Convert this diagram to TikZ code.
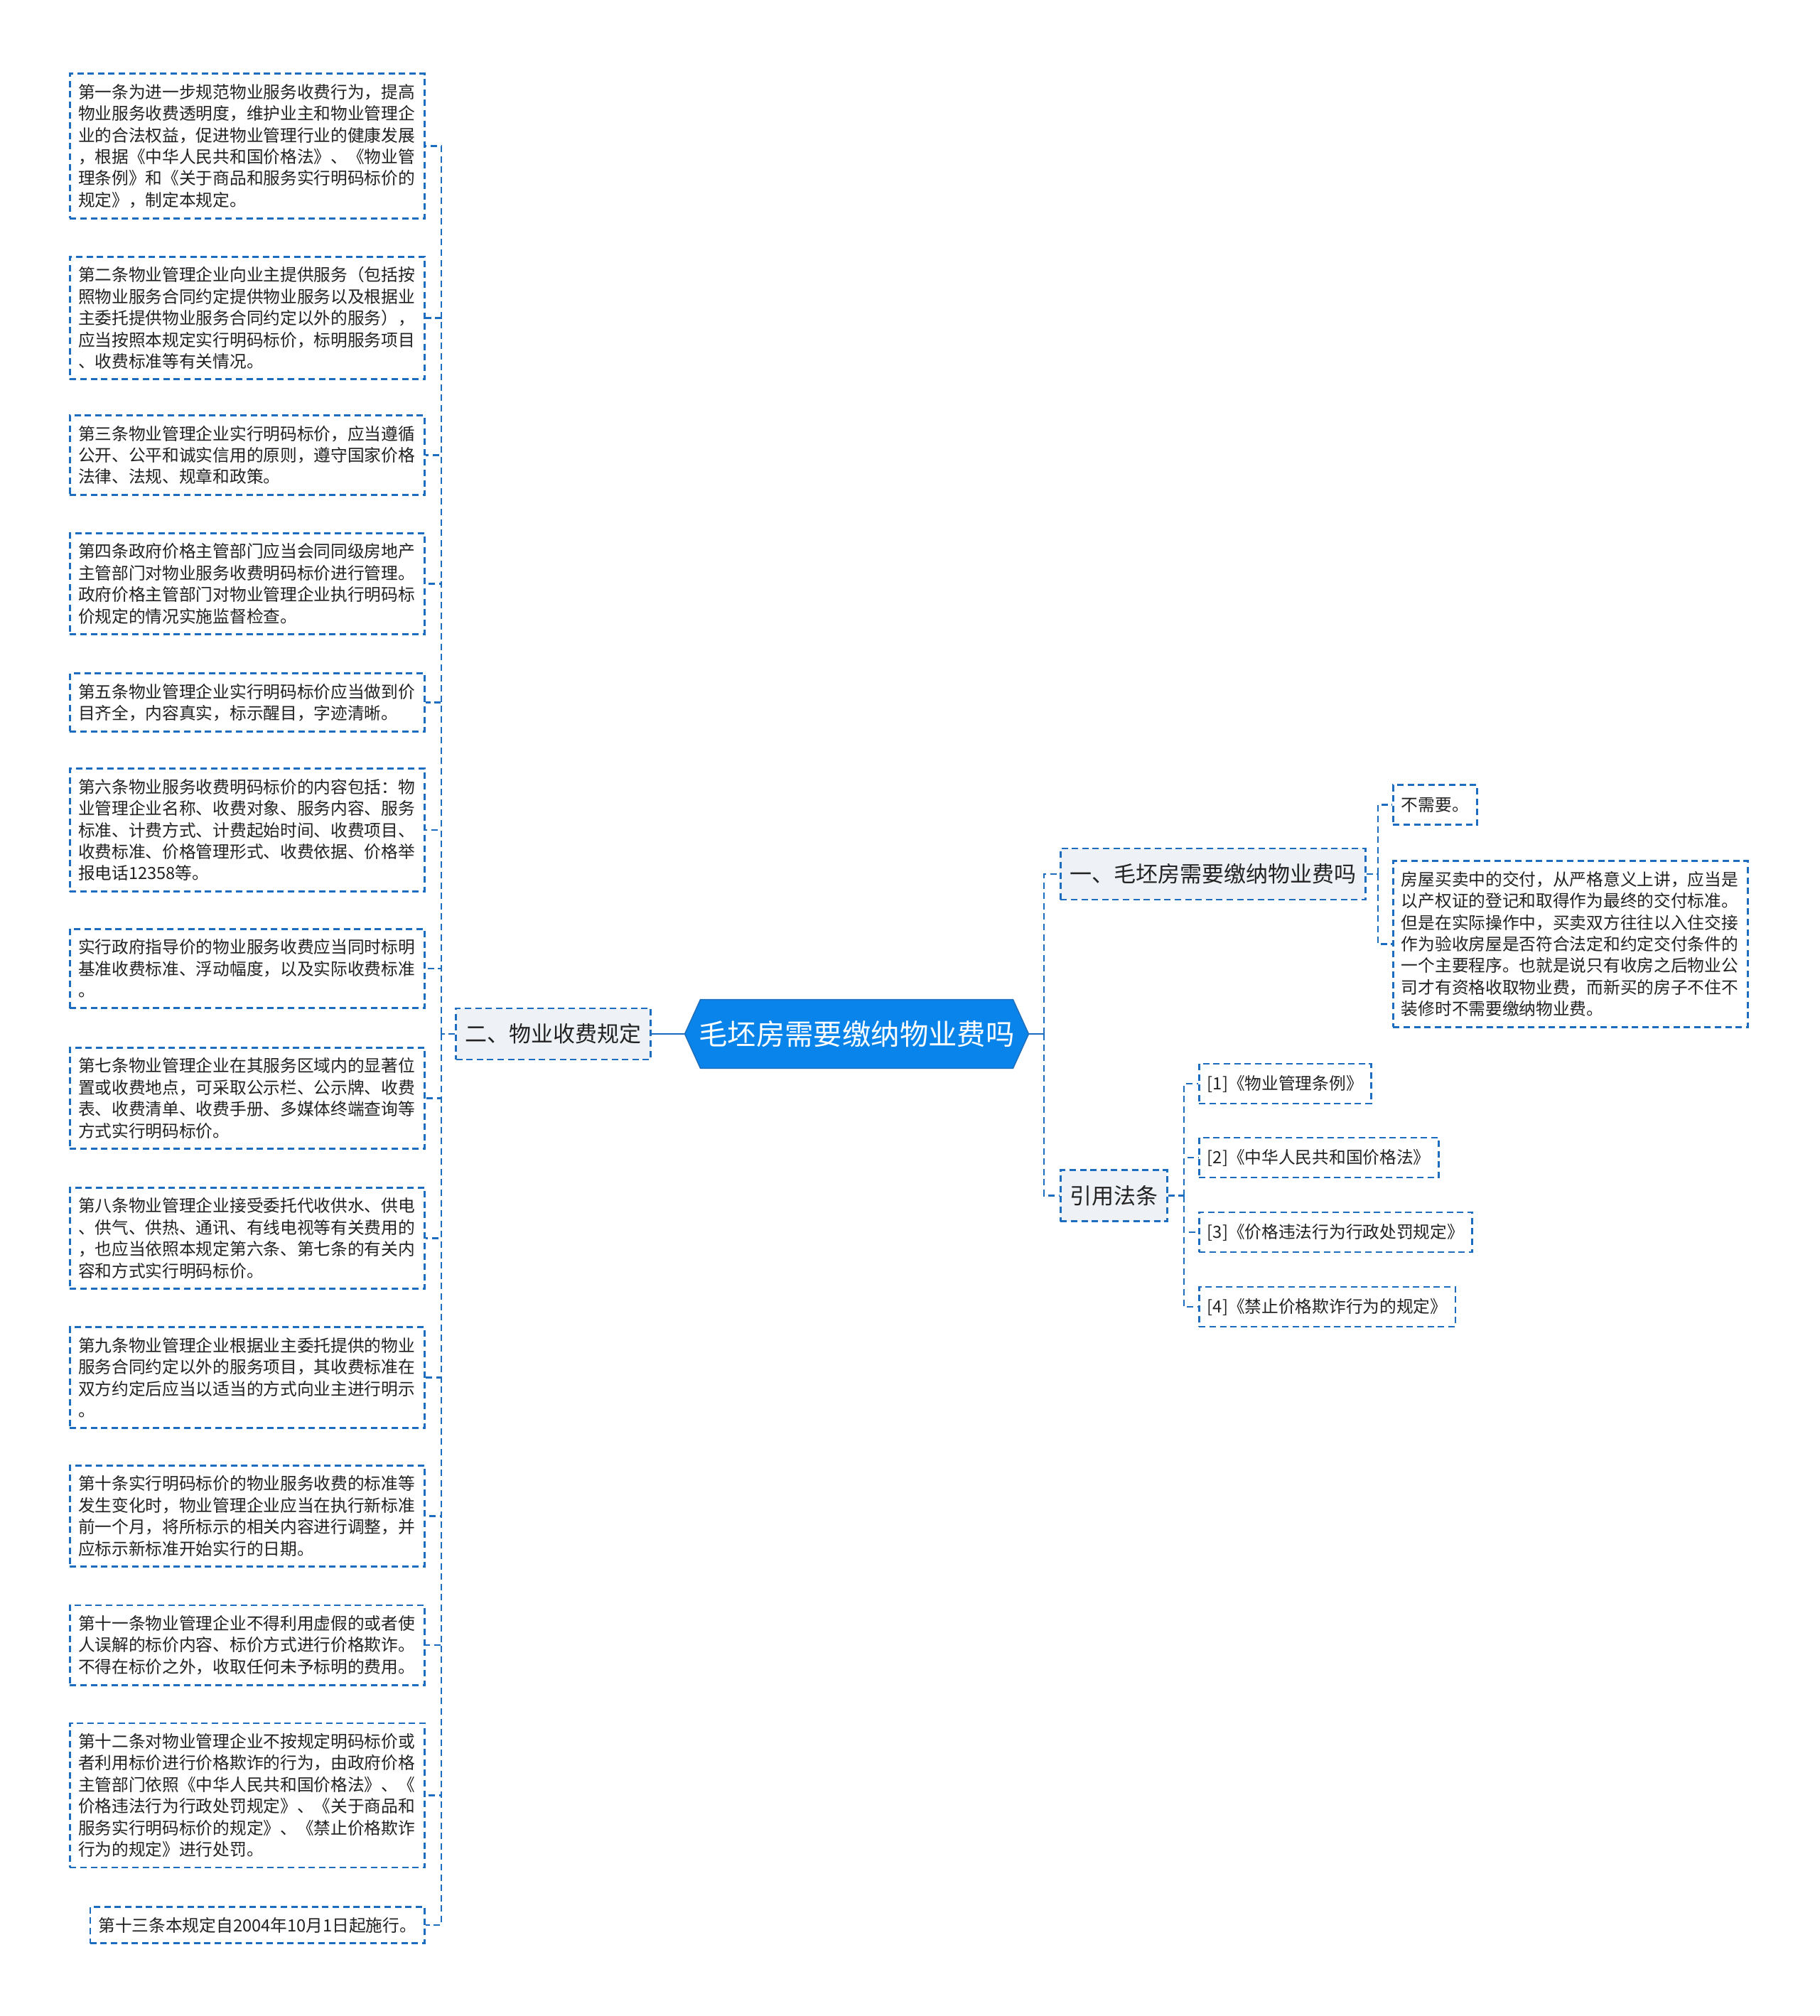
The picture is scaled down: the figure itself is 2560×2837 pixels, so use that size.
\documentclass[tikz,border=0pt]{standalone}
\usepackage{fontspec}
\setmainfont{Noto Sans CJK SC}
\usepackage{tikz}
\usetikzlibrary{backgrounds}
\usepackage{xcolor}
\definecolor{linkblue}{HTML}{1C6CC0}
\definecolor{rootblue}{HTML}{0984EA}
\definecolor{rootedge}{HTML}{1F6FBF}
\definecolor{branchgray}{HTML}{EEF1F5}
\definecolor{inkgray}{HTML}{222222}

\begin{document}
\begin{tikzpicture}[x=0.5pt, y=-0.5pt, text=inkgray,
  link/.style={draw=linkblue, line width=1.35pt, dash pattern=on 4.5pt off 2.8pt},
  rootlink/.style={draw=linkblue, line width=1.4pt},
  leaf/.style={link, align=left, inner xsep=5.8pt, inner ysep=7.2pt,
    font=\fontsize{11.85}{15.2}\selectfont},
  article/.style={leaf, text width=238pt, anchor=east},
  refbox/.style={leaf, minimum height=28pt, anchor=west},
  branch/.style={link, fill=branchgray, inner xsep=6.5pt, minimum height=36pt,
    font=\fontsize{15.5}{18}\selectfont}]
\useasboundingbox (0,0) rectangle (2560,2837);

% root and main branches
\node[text=white, font=\fontsize{20.2}{24}\selectfont, minimum width=241.5pt,
  minimum height=48pt, inner sep=0pt] (root) at (1205.5,1455) {毛坯房需要缴纳物业费吗};
\node[branch, anchor=east] (b2) at (917,1455) {二、物业收费规定};
\node[branch, anchor=west] (b1) at (1491,1230) {一、毛坯房需要缴纳物业费吗};
\node[branch, anchor=west] (b3) at (1491,1682.5) {引用法条};

% left: articles
\node[article] (art1) at (599,205.5) {第一条为进一步规范物业服务收费行为，提高\\物业服务收费透明度，维护业主和物业管理企\\业的合法权益，促进物业管理行业的健康发展\\，根据《中华人民共和国价格法》、《物业管\\理条例》和《关于商品和服务实行明码标价的\\规定》，制定本规定。};
\node[article] (art2) at (599,447.5) {第二条物业管理企业向业主提供服务（包括按\\照物业服务合同约定提供物业服务以及根据业\\主委托提供物业服务合同约定以外的服务），\\应当按照本规定实行明码标价，标明服务项目\\、收费标准等有关情况。};
\node[article] (art3) at (599,640.5) {第三条物业管理企业实行明码标价，应当遵循\\公开、公平和诚实信用的原则，遵守国家价格\\法律、法规、规章和政策。};
\node[article] (art4) at (599,821.5) {第四条政府价格主管部门应当会同同级房地产\\主管部门对物业服务收费明码标价进行管理。\\政府价格主管部门对物业管理企业执行明码标\\价规定的情况实施监督检查。};
\node[article] (art5) at (599,988.5) {第五条物业管理企业实行明码标价应当做到价\\目齐全，内容真实，标示醒目，字迹清晰。};
\node[article] (art6) at (599,1168) {第六条物业服务收费明码标价的内容包括：物\\业管理企业名称、收费对象、服务内容、服务\\标准、计费方式、计费起始时间、收费项目、\\收费标准、价格管理形式、收费依据、价格举\\报电话12358等。};
\node[article] (art7) at (599,1363) {实行政府指导价的物业服务收费应当同时标明\\基准收费标准、浮动幅度，以及实际收费标准\\。};
\node[article] (art8) at (599,1545.5) {第七条物业管理企业在其服务区域内的显著位\\置或收费地点，可采取公示栏、公示牌、收费\\表、收费清单、收费手册、多媒体终端查询等\\方式实行明码标价。};
\node[article] (art9) at (599,1742.5) {第八条物业管理企业接受委托代收供水、供电\\、供气、供热、通讯、有线电视等有关费用的\\，也应当依照本规定第六条、第七条的有关内\\容和方式实行明码标价。};
\node[article] (art10) at (599,1938.5) {第九条物业管理企业根据业主委托提供的物业\\服务合同约定以外的服务项目，其收费标准在\\双方约定后应当以适当的方式向业主进行明示\\。};
\node[article] (art11) at (599,2133.5) {第十条实行明码标价的物业服务收费的标准等\\发生变化时，物业管理企业应当在执行新标准\\前一个月，将所标示的相关内容进行调整，并\\应标示新标准开始实行的日期。};
\node[article] (art12) at (599,2315) {第十一条物业管理企业不得利用虚假的或者使\\人误解的标价内容、标价方式进行价格欺诈。\\不得在标价之外，收取任何未予标明的费用。};
\node[article] (art13) at (599,2526.5) {第十二条对物业管理企业不按规定明码标价或\\者利用标价进行价格欺诈的行为，由政府价格\\主管部门依照《中华人民共和国价格法》、《\\价格违法行为行政处罚规定》、《关于商品和\\服务实行明码标价的规定》、《禁止价格欺诈\\行为的规定》进行处罚。};
\node[leaf, anchor=east] (art14) at (599,2709) {第十三条本规定自2004年10月1日起施行。};

% right: answer and references
\node[refbox] (ans1) at (1959,1132.5) {不需要。};
\node[leaf, text width=238pt, anchor=west] (ans2) at (1959,1328.5) {房屋买卖中的交付，从严格意义上讲，应当是\\以产权证的登记和取得作为最终的交付标准。\\但是在实际操作中，买卖双方往往以入住交接\\作为验收房屋是否符合法定和约定交付条件的\\一个主要程序。也就是说只有收房之后物业公\\司才有资格收取物业费，而新买的房子不住不\\装修时不需要缴纳物业费。};
\node[refbox] (ref1) at (1686,1525) {[1]《物业管理条例》};
\node[refbox] (ref2) at (1686,1629) {[2]《中华人民共和国价格法》};
\node[refbox] (ref3) at (1686,1734) {[3]《价格违法行为行政处罚规定》};
\node[refbox] (ref4) at (1686,1839) {[4]《禁止价格欺诈行为的规定》};

% joints of the trunks
\coordinate (jl) at (621,1455);
\coordinate (jr) at (1469,1455);
\coordinate (j1) at (1939,1230);
\coordinate (j3) at (1666,1682.5);

% connectors
\draw[rootlink] (root.west) -- (b2.east);
\draw[rootlink] (root.east) -- (jr);
\draw[link] (jr) |- (b1.west);
\draw[link] (jr) |- (b3.west);
\draw[link] (b2.west) -- (jl);
\foreach \i in {1,...,14}
  \draw[link] (jl) |- (art\i.east);
\draw[link] (b1.east) -- (j1);
\foreach \n in {ans1,ans2}
  \draw[link] (j1) |- (\n.west);
\draw[link] (b3.east) -- (j3);
\foreach \i in {1,...,4}
  \draw[link] (j3) |- (ref\i.west);

\begin{scope}[on background layer]
  \fill[white] (0,0) rectangle (2560,2837);
  \filldraw[fill=rootblue, draw=rootedge, line width=0.8pt]
    (root.west) -- ([xshift=11pt]root.north west) -- ([xshift=-11pt]root.north east)
    -- (root.east) -- ([xshift=-11pt]root.south east) -- ([xshift=11pt]root.south west) -- cycle;
\end{scope}
\end{tikzpicture}
\end{document}
